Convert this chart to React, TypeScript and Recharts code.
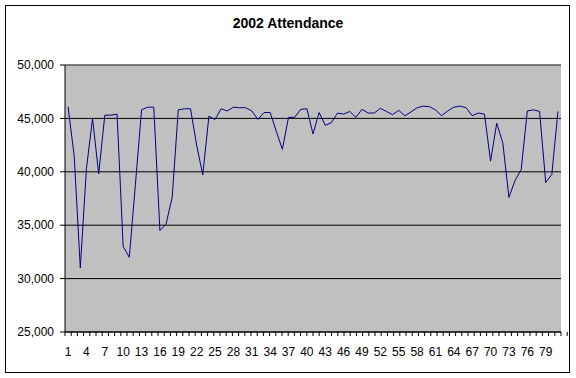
import {CartesianGrid, Line, LineChart, ReferenceLine, XAxis, YAxis} from 'recharts'

const DAYS = [
  1, 2, 3, 4, 5, 6, 7, 8, 9, 10, 11, 12, 13, 14, 15, 16, 17, 18, 19, 20,
  21, 22, 23, 24, 25, 26, 27, 28, 29, 30, 31, 32, 33, 34, 35, 36, 37, 38, 39, 40,
  41, 42, 43, 44, 45, 46, 47, 48, 49, 50, 51, 52, 53, 54, 55, 56, 57, 58, 59, 60,
  61, 62, 63, 64, 65, 66, 67, 68, 69, 70, 71, 72, 73, 74, 75, 76, 77, 78, 79, 80, 81,
]

const ATTENDANCE = [
  46100, 41500, 31000, 40300, 45000, 39800, 45300, 45300, 45400, 33000,
  32000, 38800, 45800, 46050, 46050, 34500, 35100, 37600, 45800, 45900,
  45900, 42500, 39700, 45200, 44900, 45900, 45700, 46050, 46000, 46000,
  45700, 44900, 45550, 45550, 43800, 42100, 45100, 45100, 45850, 45900,
  43550, 45550, 44350, 44600, 45500, 45400, 45650, 45100, 45850, 45500,
  45500, 45950, 45650, 45350, 45750, 45250, 45600, 46000, 46150, 46100,
  45800, 45250, 45700, 46050, 46150, 46000, 45250, 45500, 45400, 41000,
  44550, 42700, 37600, 39200, 40200, 45700, 45800, 45650, 39000, 39750, 45650,
]

const Y_TICKS = [25000, 30000, 35000, 40000, 45000, 50000]
// boundaries between categories, where the little x tick marks sit
const BOUNDARIES = [
  0, 1, 2, 3, 4, 5, 6, 7, 8, 9, 10, 11, 12, 13, 14, 15, 16, 17, 18, 19, 20,
  21, 22, 23, 24, 25, 26, 27, 28, 29, 30, 31, 32, 33, 34, 35, 36, 37, 38, 39, 40,
  41, 42, 43, 44, 45, 46, 47, 48, 49, 50, 51, 52, 53, 54, 55, 56, 57, 58, 59, 60,
  61, 62, 63, 64, 65, 66, 67, 68, 69, 70, 71, 72, 73, 74, 75, 76, 77, 78, 79, 80, 81,
]

const data = DAYS.map((d, i) => ({ day: d, value: ATTENDANCE[i] }))

const FONT = 'Arial, "Liberation Sans", sans-serif'
const tickStyle = { fontSize: 12, fill: '#000', fontFamily: FONT }

export default function App() {
  return (
    <div style={{ position: 'absolute', left: 0, top: 0, width: 576, height: 378, background: '#fff' }}>
      <div
        style={{
          position: 'absolute', left: 5, top: 5, width: 563, height: 366,
          border: '1px solid #000', boxSizing: 'content-box',
        }}
      />
      <div
        style={{
          position: 'absolute', left: 0, top: 15, width: 576, textAlign: 'center',
          fontFamily: FONT, fontWeight: 'bold', fontSize: 14, color: '#000',
        }}
      >
        2002 Attendance
      </div>
      <div style={{ position: 'absolute', left: 0, top: 0 }}>
        <LineChart width={576} height={378} data={data} margin={{ top: 65, right: 15, bottom: 5, left: 5 }}>
          <CartesianGrid xAxisId="labels" fill="#C0C0C0" stroke="#000" vertical={false} strokeOpacity={1} />
          <XAxis
            type="number"
            domain={[0, 81]}
            ticks={BOUNDARIES}
            interval={0}
            height={1}
            tickSize={4}
            tickFormatter={() => ''}
            axisLine={{ stroke: '#000' }}
            tickLine={{ stroke: '#000' }}
            allowDataOverflow
          />
          <XAxis
            xAxisId="labels"
            dataKey="day"
            scale="band"
            interval={2}
            height={40}
            tickSize={0}
            tickMargin={14}
            axisLine={false}
            tickLine={false}
            tick={tickStyle}
          />
          <YAxis
            domain={[25000, 50000]}
            ticks={Y_TICKS}
            width={60}
            tickSize={5}
            tickMargin={6}
            axisLine={{ stroke: '#000' }}
            tickLine={{ stroke: '#000' }}
            tick={tickStyle}
            tickFormatter={(v: number) => v.toLocaleString('en-US')}
            allowDataOverflow
          />
          <ReferenceLine xAxisId="labels" y={50000} stroke="#808080" />
          <ReferenceLine x={81} stroke="#808080" />
          <Line
            xAxisId="labels"
            dataKey="value"
            type="linear"
            stroke="#000080"
            strokeWidth={1}
            dot={false}
            isAnimationActive={false}
          />
        </LineChart>
      </div>
    </div>
  )
}
